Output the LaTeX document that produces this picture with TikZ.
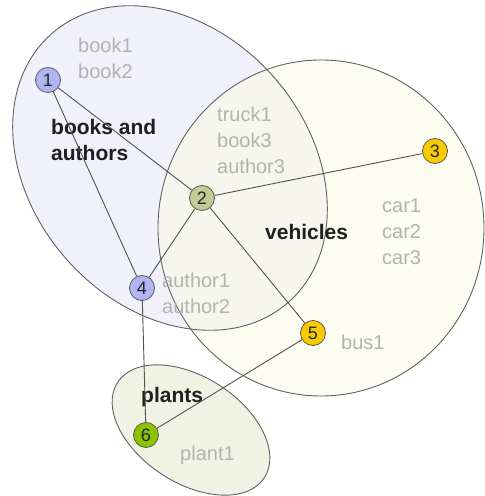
\documentclass[tikz,border=0pt]{standalone}
\usepackage{fontspec}
\setmainfont{Liberation Sans}
\definecolor{bookset}{RGB}{240,241,251}
\definecolor{vehicleset}{RGB}{250,250,230}
\definecolor{plantset}{RGB}{240,243,228}
\definecolor{lavender}{RGB}{178,180,244}
\definecolor{sage}{RGB}{194,204,150}
\definecolor{gold}{RGB}{248,202,0}
\definecolor{leaf}{RGB}{138,196,0}
\begin{document}
\begin{tikzpicture}[x=1pt,y=1pt,
  setline/.style={draw=black!62,line width=0.9pt},
  member/.style={anchor=west,text=black!30,font=\fontsize{20}{26}\selectfont,align=left,inner sep=0pt},
  setname/.style={anchor=west,text=black!88,font=\fontsize{21}{26}\selectfont\bfseries,align=left,inner sep=0pt},
  vertex/.style={circle,draw=black!65,line width=0.8pt,minimum size=25pt,inner sep=0pt,
                 text=black!85,font=\fontsize{18}{18}\selectfont},
  edge/.style={draw=black!68,line width=0.9pt}]
\useasboundingbox (0,0) rectangle (485,496);
\fill[white] (0,0) rectangle (485,496);

% set regions
\fill[bookset] (170,328) ellipse [x radius=179, y radius=138, rotate=-48.5];
\fill[vehicleset,fill opacity=0.6] (321,268) ellipse [x radius=163, y radius=168];
\fill[plantset] (191,66) ellipse [x radius=87.5, y radius=53, rotate=-33];
\path[setline] (170,328) ellipse [x radius=179, y radius=138, rotate=-48.5];
\path[setline] (321,268) ellipse [x radius=163, y radius=168];
\path[setline] (191,66) ellipse [x radius=87.5, y radius=53, rotate=-33];

% members of each region
\node[member] (m1) at (78,437.5) {book1\\book2};
\node[member] (m2) at (217,356) {truck1\\book3\\author3};
\node[member] (m3) at (382,264) {car1\\car2\\car3};
\node[member] (m4) at (162,202.5) {author1\\author2};
\node[member] (m5) at (341,154) {bus1};
\node[member] (m6) at (180,41) {plant1};

% region names
\node[setname] (s1) at (51,356) {books and\\authors};
\node[setname] (s2) at (265,264) {vehicles};
\node[setname] (s3) at (141,99) {plants};

% vertices
\node[vertex,fill=lavender] (v1) at (48,416) {1};
\node[vertex,fill=sage] (v2) at (202,298) {2};
\node[vertex,fill=gold] (v3) at (435,345) {3};
\node[vertex,fill=lavender] (v4) at (142,208) {4};
\node[vertex,fill=gold] (v5) at (313,163) {5};
\node[vertex,fill=leaf] (v6) at (146,61) {6};

% connections
\path[edge] (v1) -- (v2);
\path[edge] (v1) -- (v4);
\path[edge] (v2) -- (v3);
\path[edge] (v2) -- (v4);
\path[edge] (v2) -- (v5);
\path[edge] (v4) -- (v6);
\path[edge] (v5) -- (v6);
\end{tikzpicture}
\end{document}
